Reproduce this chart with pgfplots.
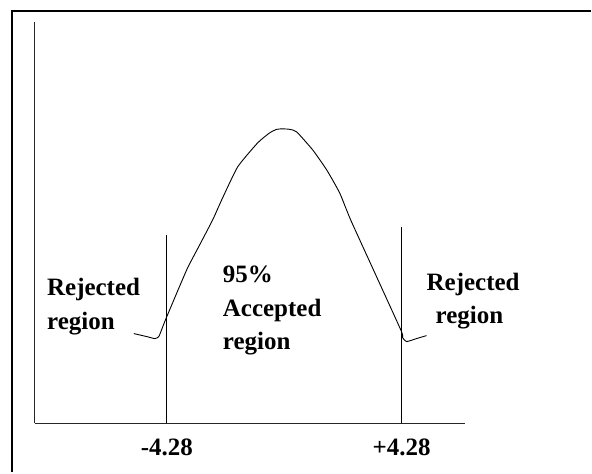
\documentclass[border=0pt]{standalone}
\usepackage{pgfplots}
\pgfplotsset{compat=1.18}
\usepackage{fontspec}
\setmainfont{Liberation Serif}
\begin{document}
\begin{tikzpicture}
\begin{axis}[
    scale only axis,
    width=431pt, height=402pt,
    xmin=35, xmax=466, ymin=49, ymax=451,
    axis lines=left,
    axis line style={-, black!85, line width=1pt},
    xtick={167,402},
    xticklabels={-4.28,+4.28},
    ytick=\empty,
    major tick length=0pt,
    xticklabel style={font=\fontsize{25}{30}\selectfont\bfseries, anchor=base, yshift=-32.5pt},
    clip=false,
]
% page extent and the frame round the figure
\path (axis cs:0,0) rectangle (axis cs:592,473);
\draw[line width=1.4pt] (axis cs:12,0) -- (axis cs:12,462) -- (axis cs:592,462);

% the sketched curve
\addplot[black, line width=0.9pt, smooth, tension=0.3] coordinates {
    (134,139) (147,136) (155,134) (159,136) (163,146) (167,156)
    (187,203) (200,228) (213,253) (222,273) (238,306) (258,330)
    (270,340) (277,343.5) (283,344) (290,343.5) (297,341) (313,323)
    (327,303) (340,280) (351,253) (377,196) (402,141) (403,135)
    (407,131) (417,134) (427,137)
};

% critical values
\addplot[black, line width=0.9pt] coordinates {(167,49) (167,238)};
\addplot[black, line width=0.9pt] coordinates {(402,49) (402,246)};

\begin{scope}[every node/.style={font=\fontsize{25}{30}\selectfont\bfseries, anchor=base west, inner sep=0pt}]
\node at (axis cs:47,177) {Rejected};
\node at (axis cs:47,143.5) {region};
\node at (axis cs:223,190) {95\%};
\node at (axis cs:223,156) {Accepted};
\node at (axis cs:223,123) {region};
\node at (axis cs:427,182) {Rejected};
\node at (axis cs:436,149) {region};
\end{scope}
\end{axis}
\end{tikzpicture}
\end{document}
